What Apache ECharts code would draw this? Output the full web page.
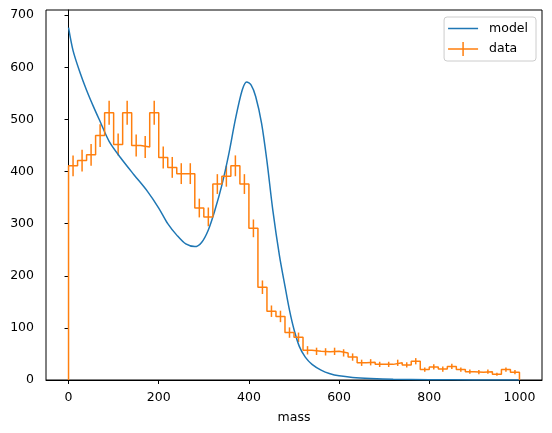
<!DOCTYPE html>
<html>
<head>
<meta charset="utf-8">
<script src="https://cdn.jsdelivr.net/npm/echarts@6/dist/echarts.min.js"></script>
<style>
  html, body { margin: 0; padding: 0; background: #fff; }
  #main { width: 552px; height: 433px; }
</style>
</head>
<body>
<div id="main"></div>
<script>
// histogram: 50 bins of width 20 starting at 0
const binStart = 0;
const binWidth = 20;
const counts = [411, 421, 432, 469, 513, 452, 513, 450, 447, 513,
                427, 408, 396, 396, 330, 313, 376, 391, 411, 376,
                291, 178, 132, 122, 91, 82, 57, 55, 54, 55,
                52, 44, 33, 34, 30, 30, 33, 29, 36, 20,
                25, 21, 26, 20, 16, 15, 16, 11, 20, 15];
const errors = [20, 21, 21, 22, 23, 21, 23, 21, 21, 23,
                21, 20, 20, 20, 18, 18, 19, 20, 20, 19,
                17, 13, 11, 11, 10, 9, 8, 7, 7, 7,
                7, 7, 6, 6, 5, 5, 6, 5, 6, 4,
                5, 5, 5, 4, 4, 4, 4, 3, 4, 4];

// model curve
const modelMass = [0, 10, 25, 40, 55, 70, 90, 115, 145, 175, 200, 220, 240, 260, 280,
                   295, 310, 325, 340, 355, 370, 385, 395, 405, 415, 428, 440, 453, 468,
                   480, 490, 500, 512, 525, 540, 560, 580, 600, 630, 670, 720, 800, 900, 1000];
const modelValues = [676, 632, 591, 556, 525, 496, 458, 427, 394, 362, 330, 300, 278, 261, 256,
                     264, 288, 327, 374, 432, 500, 556, 572, 566, 544, 493, 420, 326, 237,
                     180, 134, 97, 64, 44, 30, 19, 12, 8, 5, 3, 1.5, 0.6, 0.2, 0.1];

const xTicks = [0, 200, 400, 600, 800, 1000];
const yTicks = [0, 100, 200, 300, 400, 500, 600, 700];

var myChart = echarts.init(document.getElementById('main'));

// step outline of the histogram
var stepPts = [[binStart, 0]];
counts.forEach(function (c, i) {
    stepPts.push([binStart + i * binWidth, c]);
    stepPts.push([binStart + (i + 1) * binWidth, c]);
});
stepPts.push([binStart + counts.length * binWidth, 0]);

var errData = counts.map(function (c, i) {
    return [binStart + (i + 0.5) * binWidth, c - errors[i], c + errors[i]];
});

var font = 'DejaVu Sans';
var plain = function (v) { return String(v); };

myChart.setOption({
    animation: false,
    textStyle: { fontFamily: font },
    grid: {
        left: 46, right: 10, top: 10, bottom: 53,
        show: true, borderColor: '#000', borderWidth: 1
    },
    legend: {
        orient: 'vertical',
        right: 16, top: 17,
        padding: [5, 8, 5, 4],
        itemGap: 7,
        itemWidth: 30, itemHeight: 14,
        backgroundColor: 'rgba(255,255,255,0.8)',
        borderColor: '#cccccc', borderWidth: 1, borderRadius: 3,
        textStyle: { fontFamily: font, fontSize: 12.5, color: '#000', padding: [0, 0, 0, 6] },
        data: [
            { name: 'model', icon: 'path://M0,6.25h30v1.5h-30z', itemStyle: { color: '#1f77b4' } },
            { name: 'data', icon: 'path://M0,6.25h30v1.5h-30z M14.25,0h1.5v14h-1.5z', itemStyle: { color: '#ff7f0e' } }
        ]
    },
    xAxis: {
        type: 'value', min: -50, max: 1050,
        name: 'mass', nameLocation: 'middle', nameGap: 31,
        nameTextStyle: { fontFamily: font, fontSize: 12.5, color: '#000' },
        splitLine: { show: false },
        axisLine: { lineStyle: { color: '#000', width: 1 } },
        axisTick: { length: 4, lineStyle: { color: '#000' }, customValues: xTicks },
        axisLabel: { fontFamily: font, fontSize: 12.5, color: '#000', margin: 11,
                     customValues: xTicks, formatter: plain }
    },
    yAxis: {
        type: 'value', min: 0, max: 710,
        splitLine: { show: false },
        axisLine: { show: true, lineStyle: { color: '#000', width: 1 } },
        axisTick: { show: true, length: 4, lineStyle: { color: '#000' }, customValues: yTicks },
        axisLabel: { fontFamily: font, fontSize: 12.5, color: '#000', margin: 12,
                     customValues: yTicks, formatter: plain }
    },
    series: [
        {
            name: 'model',
            type: 'line',
            data: modelMass.map(function (m, i) { return [m, modelValues[i]]; }),
            showSymbol: false,
            smooth: 0.3,
            lineStyle: { color: '#1f77b4', width: 1.5 },
            itemStyle: { color: '#1f77b4' }
        },
        {
            name: 'data',
            type: 'line',
            data: stepPts,
            showSymbol: false,
            lineStyle: { color: '#ff7f0e', width: 1.5 },
            itemStyle: { color: '#ff7f0e' }
        },
        {
            name: 'data',
            type: 'custom',
            data: errData,
            encode: { x: 0, y: [1, 2] },
            itemStyle: { color: '#ff7f0e' },
            renderItem: function (params, api) {
                var p1 = api.coord([api.value(0), api.value(1)]);
                var p2 = api.coord([api.value(0), api.value(2)]);
                return {
                    type: 'line',
                    shape: { x1: p1[0], y1: p1[1], x2: p2[0], y2: p2[1] },
                    style: { stroke: '#ff7f0e', lineWidth: 1.5 }
                };
            }
        }
    ]
});
</script>
</body>
</html>
